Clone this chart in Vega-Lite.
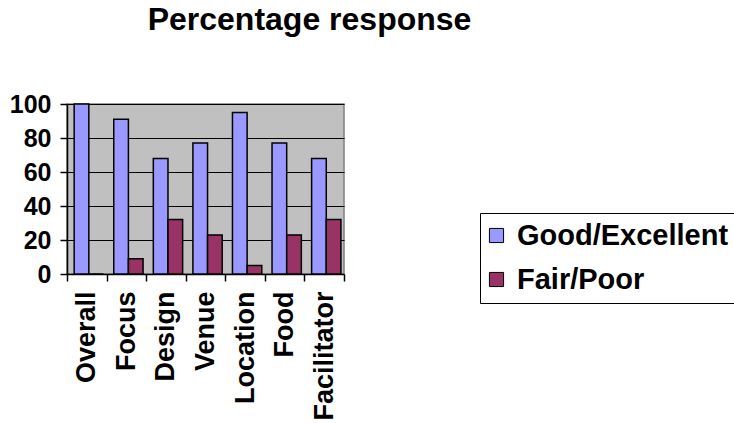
{
  "$schema": "https://vega.github.io/schema/vega-lite/v6.json",
  "width": 277,
  "height": 170,
  "autosize": {"type": "none"},
  "padding": {"left": 67, "top": 104, "right": 390, "bottom": 149},
  "background": "white",
  "config": {
    "font": "Liberation Sans",
    "view": {"fill": "#C0C0C0", "stroke": "#808080", "strokeWidth": 1.5}
  },
  "title": {
    "text": "Percentage response",
    "fontSize": 32,
    "fontWeight": "bold",
    "font": "Liberation Sans",
    "color": "black",
    "anchor": "middle",
    "frame": "group",
    "dx": 104,
    "offset": 55
  },
  "data": {
    "values": [
      {"aspect": "Overall", "rating": "Good/Excellent", "pct": 100},
      {"aspect": "Overall", "rating": "Fair/Poor", "pct": 0},
      {"aspect": "Focus", "rating": "Good/Excellent", "pct": 91},
      {"aspect": "Focus", "rating": "Fair/Poor", "pct": 9},
      {"aspect": "Design", "rating": "Good/Excellent", "pct": 68},
      {"aspect": "Design", "rating": "Fair/Poor", "pct": 32},
      {"aspect": "Venue", "rating": "Good/Excellent", "pct": 77},
      {"aspect": "Venue", "rating": "Fair/Poor", "pct": 23},
      {"aspect": "Location", "rating": "Good/Excellent", "pct": 95},
      {"aspect": "Location", "rating": "Fair/Poor", "pct": 5},
      {"aspect": "Food", "rating": "Good/Excellent", "pct": 77},
      {"aspect": "Food", "rating": "Fair/Poor", "pct": 23},
      {"aspect": "Facilitator", "rating": "Good/Excellent", "pct": 68},
      {"aspect": "Facilitator", "rating": "Fair/Poor", "pct": 32}
    ]
  },
  "mark": {"type": "bar", "stroke": "black", "strokeWidth": 1.5},
  "encoding": {
    "x": {
      "field": "aspect",
      "type": "nominal",
      "sort": ["Overall", "Focus", "Design", "Venue", "Location", "Food", "Facilitator"],
      "scale": {"paddingInner": 0, "paddingOuter": 0},
      "axis": {
        "title": null,
        "labelAngle": -90,
        "labelAlign": "right",
        "labelBaseline": "middle",
        "labelFontSize": 27,
        "labelFontWeight": "bold",
        "labelColor": "black",
        "labelPadding": 10,
        "labelLimit": 300,
        "tickBand": "extent",
        "tickColor": "black",
        "tickSize": 7,
        "tickWidth": 1.5,
        "domainColor": "black",
        "domainWidth": 1.5
      }
    },
    "xOffset": {
      "field": "rating",
      "sort": ["Good/Excellent", "Fair/Poor"],
      "scale": {"paddingInner": 0, "paddingOuter": 0.35, "align": 0.7}
    },
    "y": {
      "field": "pct",
      "type": "quantitative",
      "scale": {"domain": [0, 100], "nice": false},
      "axis": {
        "title": null,
        "values": [0, 20, 40, 60, 80, 100],
        "grid": true,
        "gridColor": "black",
        "gridWidth": 1.2,
        "labelFontSize": 25,
        "labelFontWeight": "bold",
        "labelColor": "black",
        "labelPadding": 9,
        "tickColor": "black",
        "tickSize": 7,
        "tickWidth": 1.5,
        "domainColor": "black",
        "domainWidth": 1.5
      }
    },
    "color": {
      "field": "rating",
      "type": "nominal",
      "sort": ["Good/Excellent", "Fair/Poor"],
      "scale": {"domain": ["Good/Excellent", "Fair/Poor"], "range": ["#9999FF", "#993366"]},
      "legend": {
        "title": null,
        "orient": "none",
        "legendX": 413,
        "legendY": 109,
        "strokeColor": "black",
        "fillColor": "white",
        "padding": 8,
        "symbolType": "square",
        "symbolSize": 200,
        "symbolOffset": -6,
        "symbolStrokeColor": "black",
        "symbolStrokeWidth": 1,
        "symbolOpacity": 1,
        "labelFontSize": 29,
        "labelFontWeight": "bold",
        "labelColor": "black",
        "labelOffset": 6,
        "labelLimit": 400,
        "rowPadding": 14
      }
    }
  }
}
